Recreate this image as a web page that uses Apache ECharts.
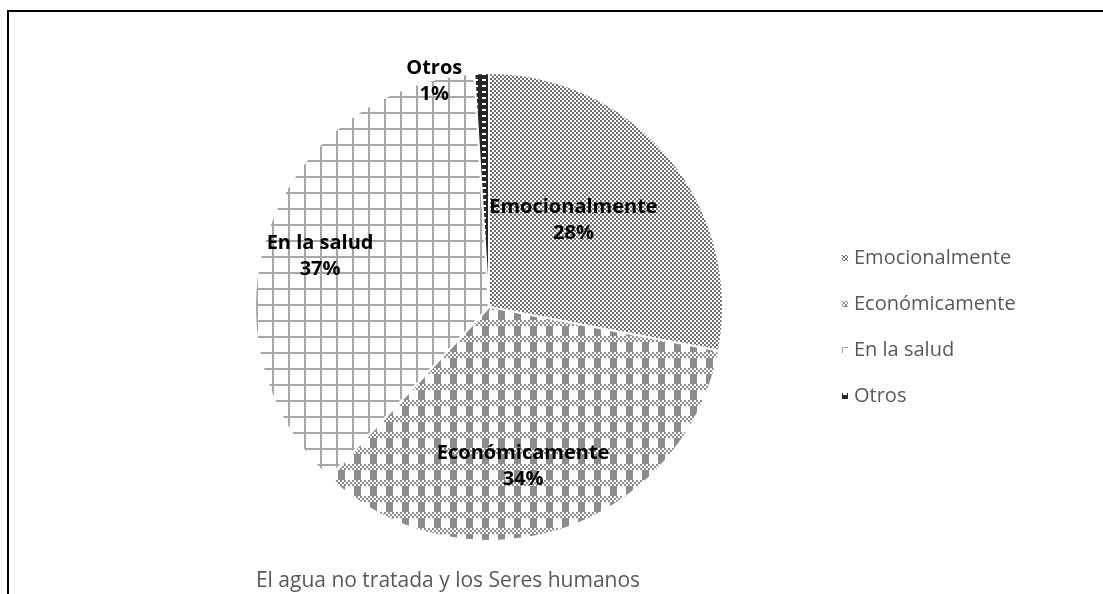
<!DOCTYPE html>
<html>
<head>
<meta charset="utf-8">
<script src="https://cdn.jsdelivr.net/npm/echarts@6/dist/echarts.min.js"></script>
<style>
  html, body { margin: 0; padding: 0; background: #fff; }
  #chart { width: 1103px; height: 594px; }
</style>
</head>
<body>
<div id="chart"></div>
<script>
const categories = ["Emocionalmente", "Económicamente", "En la salud", "Otros"]
const values = [28, 34, 37, 1]
const titleText = "El agua no tratada y los Seres humanos"

// label nudges so they sit where the original put them
const labelOffsets = [[-8, -10], [-3, 45], [-56, -10], [-51, -106]]

// small canvas tiles used as pattern fills
const makeTile = (w, h, draw) => {
  const c = document.createElement("canvas")
  c.width = w
  c.height = h
  const ctx = c.getContext("2d")
  ctx.fillStyle = "#fff"
  ctx.fillRect(0, 0, w, h)
  draw(ctx)
  return { image: c, repeat: "repeat" }
}

const dotsTile = makeTile(4, 4, (ctx) => {
  ctx.fillStyle = "#707070"
  ctx.fillRect(0, 0, 2, 2)
  ctx.fillRect(2, 2, 2, 2)
})

const blocksTile = makeTile(16, 16, (ctx) => {
  ctx.fillStyle = "#8c8c8c"
  for (let y = 0; y < 6; y += 2) {
    for (let x = 0; x < 16; x += 2) {
      if (((x + y) / 2) % 2 === 0) ctx.fillRect(x, y, 2, 2)
    }
  }
  ctx.fillRect(2, 6, 7, 10)
})

const gridTile = makeTile(16, 16, (ctx) => {
  ctx.fillStyle = "#a6a6a6"
  ctx.fillRect(0, 0, 16, 2)
  ctx.fillRect(0, 0, 2, 16)
})

const darkTile = makeTile(8, 6, (ctx) => {
  ctx.fillStyle = "#262626"
  ctx.fillRect(0, 0, 8, 6)
  ctx.fillStyle = "#fff"
  ctx.fillRect(2, 1, 4, 2)
})

const fills = [dotsTile, blocksTile, gridTile, darkTile]

const chartBox = echarts.init(document.getElementById("chart"))
const options = {
  animation: false,
  backgroundColor: "#fff",
  title: {
    text: titleText,
    left: 443,
    top: 566,
    textAlign: "center",
    textStyle: {
      fontFamily: "Open Sans",
      fontWeight: "normal",
      fontSize: 21,
      color: "#595959"
    }
  },
  legend: {
    orient: "vertical",
    left: 835,
    top: 243,
    itemGap: 26,
    itemWidth: 8,
    itemHeight: 8,
    icon: "rect",
    textStyle: {
      fontFamily: "Open Sans",
      fontSize: 20,
      color: "#595959"
    },
    data: categories
  },
  graphic: [
    {
      type: "polyline",
      shape: { points: [[8, 594], [8, 11], [1103, 11]] },
      style: { stroke: "#000", lineWidth: 2, fill: null }
    }
  ],
  series: [
    {
      type: "pie",
      center: [489, 307],
      radius: 234,
      startAngle: 90,
      clockwise: true,
      avoidLabelOverlap: false,
      itemStyle: { borderColor: "#fff", borderWidth: 2 },
      label: {
        show: true,
        position: "inside",
        formatter: "{b}\n{d}%",
        fontFamily: "Open Sans",
        fontWeight: "bold",
        fontSize: 20,
        lineHeight: 26,
        color: "#000"
      },
      labelLine: { show: false },
      emphasis: { disabled: true },
      data: categories.map((name, i) => ({
        name,
        value: values[i],
        itemStyle: { color: fills[i] },
        label: { offset: labelOffsets[i] }
      }))
    }
  ]
}
chartBox.setOption(options)
</script>
</body>
</html>
